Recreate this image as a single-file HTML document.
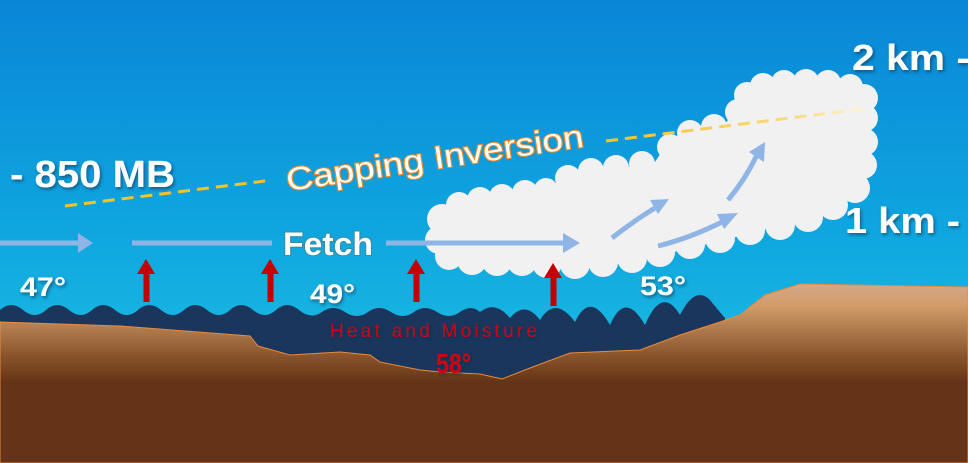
<!DOCTYPE html>
<html><head><meta charset="utf-8"><style>
html,body{margin:0;padding:0;width:968px;height:463px;overflow:hidden}
svg{display:block}
text{font-family:"Liberation Sans",sans-serif;font-weight:bold}
</style></head><body>
<svg width="968" height="463" viewBox="0 0 968 463" xmlns="http://www.w3.org/2000/svg">
<defs>
<linearGradient id="sky" x1="0" y1="0" x2="0" y2="1">
<stop offset="0" stop-color="#0a86d6"/><stop offset="0.5" stop-color="#0fa6e0"/><stop offset="1" stop-color="#22c8e2"/>
</linearGradient>
<linearGradient id="gnd" x1="0" y1="0" x2="0" y2="1">
<stop offset="0" stop-color="#d4a88a"/><stop offset="0.12" stop-color="#d29c6a"/><stop offset="0.4" stop-color="#8a552c"/><stop offset="0.55" stop-color="#653317"/><stop offset="1" stop-color="#653317"/>
</linearGradient>
<linearGradient id="fade" x1="0" y1="0" x2="1" y2="0">
<stop offset="0" stop-color="#f5c326"/><stop offset="0.7" stop-color="#f9d980"/><stop offset="1" stop-color="#fff6d8"/>
</linearGradient>
<filter id="sh"><feDropShadow dx="1.5" dy="2" stdDeviation="1.5" flood-color="#0a2a4a" flood-opacity="0.6"/></filter>
</defs>
<rect width="968" height="463" fill="url(#sky)"/>
<!-- water -->
<path d="M0,310 Q11,300 23,310 T46,310 T69,310 T92,310 T115,310 T138,310 T161,310 T184,310 T207,310 T230,310 T253,310 T276,310 T299,310 T322,312 T345,312 T368,312 T391,312 T414,312 T437,312 T460,312 T480,312 Q495,300 510,318 Q525,300 540,320 Q555,295 575,322 Q590,290 610,325 Q625,290 645,325 Q662,285 680,315 Q695,285 710,300 Q718,310 725,318 L725,380 L0,380 Z" fill="#1a365d"/>
<!-- ground -->
<path d="M0,322 L120,326 L250,336 L258,346 L290,355 L340,352 L370,355 L380,362 L420,370 L440,372 L480,374 L502,379 L530,368 L570,353 L640,350 L680,335 L720,322 L740,315 L765,295 L800,284 L968,287 L968,463 L0,463 Z" fill="url(#gnd)" stroke="#e88a3a" stroke-width="1"/>
<!-- cloud -->
<g fill="#f1f1f1">
<polygon points="442,212 545,190 560,180 655,162 668,142 725,124 747,94 858,90 860,185 820,213 770,228 720,241 670,253 630,263 590,266 540,261 480,260 442,253"/>
<rect x="750" y="84" width="110" height="40"/>
<circle cx="442" cy="219" r="15"/><circle cx="439" cy="240" r="14"/><circle cx="449" cy="256" r="14"/>
<circle cx="472" cy="260" r="15"/><circle cx="497" cy="261" r="15"/><circle cx="522" cy="261" r="15"/><circle cx="547" cy="263" r="15"/>
<circle cx="575" cy="264" r="15"/><circle cx="603" cy="262" r="15"/><circle cx="632" cy="258" r="15"/><circle cx="660" cy="252" r="15"/>
<circle cx="690" cy="244" r="15"/><circle cx="720" cy="238" r="15"/><circle cx="750" cy="230" r="15"/><circle cx="780" cy="225" r="15"/>
<circle cx="808" cy="217" r="15"/><circle cx="833" cy="205" r="15"/><circle cx="855" cy="188" r="15"/><circle cx="863" cy="165" r="14"/>
<circle cx="864" cy="142" r="14"/><circle cx="864" cy="118" r="14"/><circle cx="864" cy="98" r="14"/><circle cx="850" cy="87" r="13"/>
<circle cx="828" cy="83" r="13"/><circle cx="806" cy="82" r="13"/><circle cx="784" cy="83" r="13"/><circle cx="763" cy="86" r="13"/>
<circle cx="747" cy="95" r="13"/><circle cx="738" cy="112" r="13"/><circle cx="714" cy="127" r="13"/><circle cx="690" cy="133" r="13"/>
<circle cx="670" cy="147" r="13"/><circle cx="642" cy="164" r="13"/><circle cx="616" cy="168" r="13"/><circle cx="591" cy="171" r="13"/>
<circle cx="568" cy="178" r="13"/><circle cx="546" cy="190" r="12"/><circle cx="525" cy="193" r="13"/><circle cx="502" cy="197" r="13"/>
<circle cx="480" cy="200" r="13"/><circle cx="459" cy="205" r="13"/>
</g>
<!-- inversion -->
<line x1="65" y1="206" x2="265" y2="181" stroke="#f5c326" stroke-width="3" stroke-dasharray="12,7"/>
<line x1="606" y1="141" x2="870" y2="108" stroke="url(#fade)" stroke-width="3" stroke-dasharray="12,7"/>
<text x="288" y="191" font-size="32" textLength="300" lengthAdjust="spacingAndGlyphs" fill="#fff" stroke="#f08a24" stroke-width="2" paint-order="stroke" transform="rotate(-8.5 288 191)" style="font-weight:normal">Capping Inversion</text>
<!-- flow arrows -->
<g stroke="#8fb5e6" stroke-width="5" fill="none">
<line x1="0" y1="243" x2="80" y2="243"/>
<line x1="132" y1="243" x2="272" y2="243"/>
<line x1="386" y1="243" x2="565" y2="243"/>
<path d="M612,238 Q635,220 655,208"/>
<path d="M658,246 Q690,238 722,222"/>
<path d="M728,200 Q745,180 757,155"/>
</g>
<g fill="#8fb5e6">
<polygon points="78,233 93,243 78,253"/>
<polygon points="563,233 580,243 563,253"/>
<polygon points="650,200 669,199 658,214"/>
<polygon points="717,214 738,213 724,229"/>
<polygon points="749,152 765,142 764,162"/>
</g>
<!-- red arrows -->
<g fill="#c40000">
<rect x="143.5" y="272" width="6" height="30"/><polygon points="137,274 146,259 155,274"/>
<rect x="267.5" y="272" width="6" height="30"/><polygon points="261,274 270,259 279,274"/>
<rect x="413.5" y="272" width="6" height="30"/><polygon points="407,274 416,259 425,274"/>
<rect x="550.5" y="276" width="6" height="30"/><polygon points="544,278 553,263 562,278"/>
</g>
<!-- labels -->
<g fill="#fff" filter="url(#sh)">
<text x="10" y="187" font-size="38" textLength="165" lengthAdjust="spacingAndGlyphs">- 850 MB</text>
<text x="852" y="70" font-size="36" textLength="118" lengthAdjust="spacingAndGlyphs">2 km -</text>
<text x="845" y="233" font-size="36" textLength="115" lengthAdjust="spacingAndGlyphs">1 km -</text>
<text x="20" y="296" font-size="27" textLength="46" lengthAdjust="spacingAndGlyphs">47°</text>
<text x="310" y="303" font-size="27" textLength="45" lengthAdjust="spacingAndGlyphs">49°</text>
<text x="640" y="295" font-size="27" textLength="46" lengthAdjust="spacingAndGlyphs">53°</text>
</g>
<text x="283" y="255" font-size="32" textLength="90" lengthAdjust="spacingAndGlyphs" fill="#fff" stroke="#3a8a9a" stroke-width="2" paint-order="stroke">Fetch</text>
<g fill="#d00010" filter="url(#sh)">
<text x="330" y="337" font-size="19" textLength="207" lengthAdjust="spacing" style="font-weight:normal">Heat and Moisture</text>
<text x="436" y="373" font-size="28" textLength="35" lengthAdjust="spacingAndGlyphs">58°</text>
</g>
</svg>
</body></html>
